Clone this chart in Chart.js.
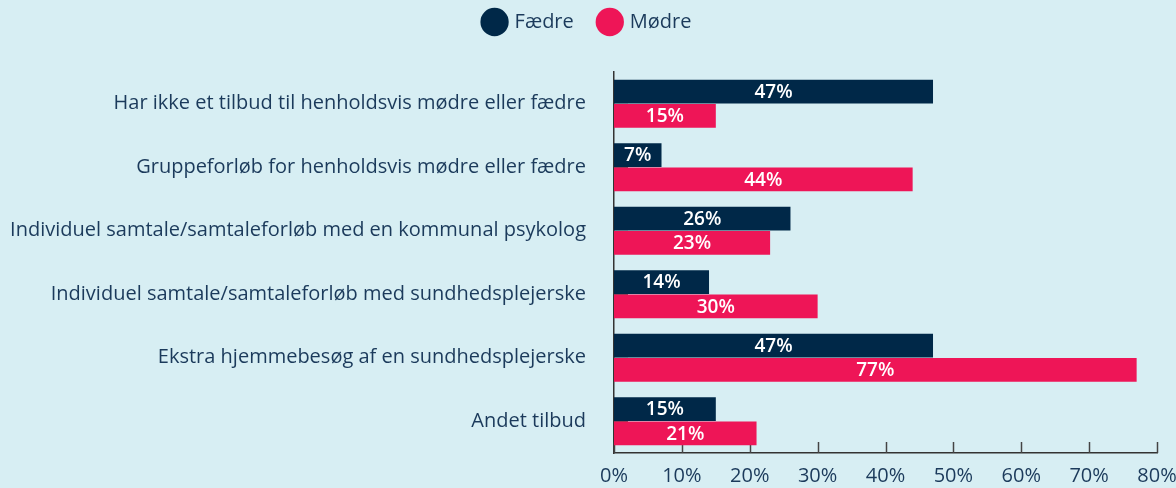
<!DOCTYPE html>
<html>
<head>
<meta charset="utf-8">
<script src="https://cdn.jsdelivr.net/npm/chart.js@4"></script>
<style>
  html, body { margin: 0; padding: 0; background: #d7eef3; }
  #wrap { width: 1176px; height: 488px; position: relative; }
</style>
</head>
<body>
<div id="wrap"><canvas id="chart"></canvas></div>
<script>
// data
const categories = [
    'Har ikke et tilbud til henholdsvis mødre eller fædre',
    'Gruppeforløb for henholdsvis mødre eller fædre',
    'Individuel samtale/samtaleforløb med en kommunal psykolog',
    'Individuel samtale/samtaleforløb med sundhedsplejerske',
    'Ekstra hjemmebesøg af en sundhedsplejerske',
    'Andet tilbud'
];
const faedre = [47, 7, 26, 14, 47, 15];
const moedre = [15, 44, 23, 30, 77, 21];
const xTicks = [0, 10, 20, 30, 40, 50, 60, 70, 80];

const textColor = '#1b3a5b';
const font = 'Open Sans';

// white value labels centred in each bar
const barLabels = {
    id: 'barLabels',
    afterDatasetsDraw(chart) {
        const ctx = chart.ctx;
        ctx.save();
        ctx.fillStyle = '#ffffff';
        ctx.font = '600 19px "Open Sans"';
        ctx.textAlign = 'center';
        ctx.textBaseline = 'middle';
        chart.data.datasets.forEach((ds, i) => {
            chart.getDatasetMeta(i).data.forEach((bar, j) => {
                const x = (bar.x + bar.base) / 2;
                ctx.fillText(ds.data[j] + '%', x, bar.y + 1);
            });
        });
        ctx.restore();
    }
};

// inward tick marks on both axes
const innerTicks = {
    id: 'innerTicks',
    beforeDatasetsDraw(chart) {
        const ctx = chart.ctx;
        const x = chart.scales.x, y = chart.scales.y;
        ctx.save();
        ctx.lineWidth = 1.5;
        ctx.strokeStyle = '#555555';
        y.ticks.forEach((t, i) => {
            const py = Math.round(y.getPixelForTick(i)) + 0.5;
            ctx.beginPath();
            ctx.moveTo(x.left, py);
            ctx.lineTo(x.left + 14, py);
            ctx.stroke();
        });
        ctx.strokeStyle = '#444444';
        x.ticks.forEach((t, i) => {
            const px = Math.round(x.getPixelForTick(i)) + 0.5;
            ctx.beginPath();
            ctx.moveTo(px, y.bottom);
            ctx.lineTo(px, y.bottom - 11);
            ctx.stroke();
        });
        ctx.restore();
    }
};

// fixed legend height so the plot starts lower
const legendHeight = {
    id: 'legendHeight',
    beforeLayout(chart) {
        const lg = chart.legend;
        if (!lg || lg._patched) return;
        const fit = lg.fit;
        lg.fit = function () {
            fit.call(this);
            this.height = 86;
        };
        lg._patched = true;
    }
};

const config = {
    type: 'bar',
    data: {
        labels: categories,
        datasets: [{
            label: 'Fædre',
            data: faedre,
            backgroundColor: '#002848',
            barPercentage: 0.97,
            categoryPercentage: 0.77
        }, {
            label: 'Mødre',
            data: moedre,
            backgroundColor: '#ee1557',
            barPercentage: 0.97,
            categoryPercentage: 0.77
        }]
    },
    options: {
        indexAxis: 'y',
        responsive: true,
        maintainAspectRatio: false,
        animation: false,
        layout: { padding: { left: 0, right: 0, top: -14, bottom: 0 } },
        plugins: {
            legend: {
                position: 'top',
                labels: {
                    usePointStyle: true,
                    pointStyle: 'circle',
                    boxWidth: 22,
                    boxHeight: 22,
                    padding: 26,
                    color: textColor,
                    font: { family: font, size: 20 }
                }
            },
            tooltip: { enabled: false }
        },
        scales: {
            x: {
                min: 0,
                max: 80,
                afterBuildTicks: (s) => { s.ticks = xTicks.map(v => ({ value: v })); },
                afterFit: (s) => { s.paddingRight = 19; s.paddingBottom = 0; s.height = 35; },
                grid: { display: false, drawTicks: false },
                border: { display: true, color: '#333333', width: 1.5 },
                ticks: {
                    padding: 11,
                    color: textColor,
                    font: { family: font, size: 20 },
                    callback: (v) => v + '%'
                }
            },
            y: {
                afterFit: (s) => { s.width = 614; s.paddingBottom = 0; },
                grid: { display: false, drawTicks: false },
                border: { display: true, color: '#333333', width: 1.5 },
                ticks: {
                    padding: 28,
                    color: textColor,
                    font: { family: font, size: 20 }
                }
            }
        }
    },
    plugins: [legendHeight, innerTicks, barLabels]
};

const chart = new Chart(document.getElementById('chart'), config);
</script>
</body>
</html>
